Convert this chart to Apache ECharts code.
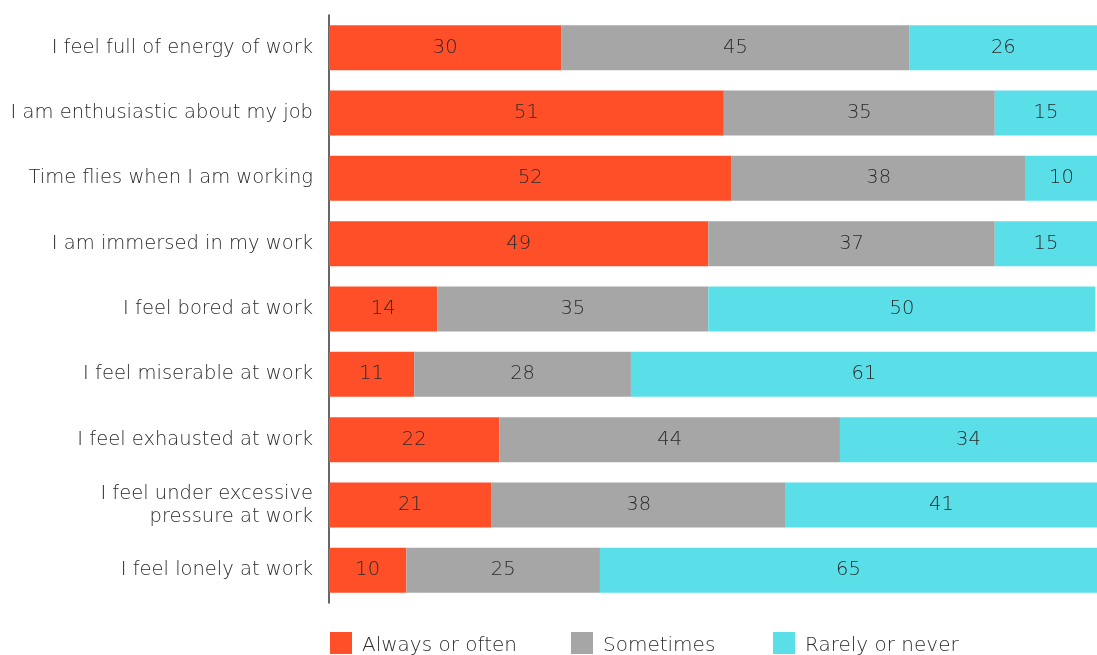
<!DOCTYPE html>
<html><head><meta charset="utf-8">
<script src="https://cdn.jsdelivr.net/npm/echarts@6/dist/echarts.min.js"></script>
<style>html,body{margin:0;padding:0;background:#fff}#c{width:1097px;height:655px}</style>
</head><body><div id="c"></div>
<script>
const categories = [
  "I feel full of energy of work",
  "I am enthusiastic about my job",
  "Time flies when I am working",
  "I am immersed in my work",
  "I feel bored at work",
  "I feel miserable at work",
  "I feel exhausted at work",
  "I feel under excessive\npressure at work",
  "I feel lonely at work"
];
const seriesNames = ["Always or often", "Sometimes", "Rarely or never"];
const alwaysOften = [30, 51, 52, 49, 14, 11, 22, 21, 10];
const sometimes = [45, 35, 38, 37, 35, 28, 44, 38, 25];
const rarelyNever = [26, 15, 10, 15, 50, 61, 34, 41, 65];
const colors = ["#FF4F28", "#A6A6A6", "#5ADFE9"];

const FONT = "DejaVu Sans";
const FW = 200;
const TXT = '#2b2b2b';
const chart = echarts.init(document.getElementById('c'), null, {renderer: 'canvas'});
const mk = (name, data, color) => ({
  name, type: 'bar', stack: 'total', data,
  barCategoryGap: '31%',
  itemStyle: {color},
  label: {show: true, position: 'inside', color: TXT, fontSize: 19.5, fontFamily: FONT, fontWeight: FW},
  emphasis: {disabled: true}
});
const legendLefts = [330, 571, 773];
chart.setOption({
  animation: false,
  textStyle: {fontFamily: FONT},
  grid: {left: 329, right: 0, top: 15, bottom: 52, containLabel: false},
  // the right edge of the picture cuts the chart just before 100%
  xAxis: {type: 'value', min: 0, max: 99.2, show: false},
  yAxis: {
    type: 'category', data: categories, inverse: true,
    axisLine: {show: true, lineStyle: {color: '#333', width: 1.5}},
    axisTick: {show: false},
    axisLabel: {color: TXT, fontSize: 19.5, fontFamily: FONT, fontWeight: FW, margin: 16, lineHeight: 23, align: 'right'}
  },
  legend: seriesNames.map((n, i) => ({
    left: legendLefts[i], top: 632, padding: 0, itemWidth: 22, itemHeight: 22,
    icon: 'rect',
    formatter: name => '{t|' + name + '}',
    textStyle: {
      color: TXT, fontSize: 20, fontFamily: FONT, fontWeight: FW, padding: [0, 0, 0, 5],
      rich: {t: {color: TXT, fontSize: 20, fontFamily: FONT, fontWeight: FW, padding: [6, 0, 0, 0]}}
    },
    data: [n]
  })),
  series: [
    mk(seriesNames[0], alwaysOften, colors[0]),
    mk(seriesNames[1], sometimes, colors[1]),
    mk(seriesNames[2], rarelyNever, colors[2])
  ]
});
</script></body></html>
